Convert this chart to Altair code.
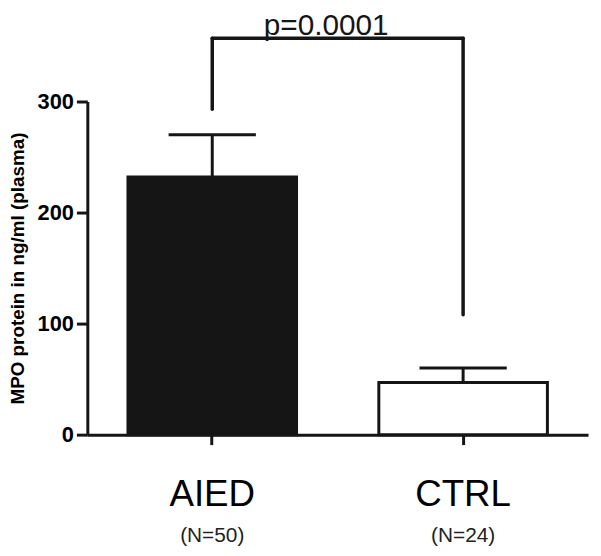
import altair as alt
import pandas as pd

groups = ["AIED", "CTRL"]
means = [232, 47]
err_tops = [270, 60]
n_labels = ["(N=50)", "(N=24)"]

# significance bracket
bracket_left = [293, 357]
bracket_right = [108, 357]
bracket_top = 357
p_text = "p=0.0001"

FONT = "Liberation Sans"
INK = "#151515"

bars_df = pd.DataFrame({"group": groups, "mean": means, "top": err_tops, "n": n_labels})

xscale = alt.Scale(domain=groups, paddingInner=0.328, paddingOuter=0.162)
yscale = alt.Scale(domain=[0, 300], nice=False)

x = alt.X("group:N", scale=xscale, sort=groups,
          axis=alt.Axis(title=None, labelAngle=0, labelFontSize=37, labelFont=FONT,
                        labelFontWeight="normal", labelColor="black",
                        domainColor=INK, domainWidth=3, tickColor=INK, tickWidth=3,
                        tickSize=10, labelPadding=61, labelBaseline="alphabetic"))
y = alt.Y("mean:Q", scale=yscale,
          axis=alt.Axis(title="MPO protein  in ng/ml (plasma)", values=[0, 100, 200, 300],
                        labelFontSize=22, labelFontWeight="bold", labelFont=FONT,
                        labelColor="black", tickSize=11, labelPadding=3,
                        domainColor=INK, domainWidth=3, tickColor=INK, tickWidth=3,
                        titleFontSize=19, titleFontWeight="bold", titleFont=FONT,
                        titleColor="black", titleX=-70, titleY=168,
                        titleBaseline="middle", titleAngle=-90, grid=False))

err_rule = alt.Chart(bars_df).mark_rule(color=INK, strokeWidth=3, opacity=1).encode(
    x=x, y=y, y2="top:Q")
err_cap = alt.Chart(bars_df).mark_tick(color=INK, thickness=3, size=88, opacity=1,
                                       strokeCap="round").encode(
    x=x, y=alt.Y("top:Q", scale=yscale))

bars = alt.Chart(bars_df).mark_bar(stroke=INK, strokeWidth=3, opacity=1).encode(
    x=x, y=y,
    fill=alt.Fill("group:N", scale=alt.Scale(domain=groups, range=[INK, "#ffffff"]),
                  legend=None))

n_text = alt.Chart(bars_df).mark_text(fontSize=21, font=FONT, color="#222222",
                                      baseline="middle").encode(
    x=x, y=alt.value(438), text="n:N")

br_df = pd.DataFrame({
    "g": [groups[0], groups[1]],
    "lo": [bracket_left[0], bracket_right[0]],
    "hi": [bracket_left[1], bracket_right[1]],
})
br_vert = alt.Chart(br_df).mark_rule(color=INK, strokeWidth=3.5, strokeCap="round").encode(
    x=alt.X("g:N", scale=xscale, sort=groups), y=alt.Y("lo:Q", scale=yscale), y2="hi:Q")

top_df = pd.DataFrame({"g1": [groups[0]], "g2": [groups[1]], "v": [bracket_top], "t": [p_text]})
br_top = alt.Chart(top_df).mark_rule(color=INK, strokeWidth=3.5, strokeCap="round").encode(
    x=alt.X("g1:N", scale=xscale, sort=groups), x2="g2:N", y=alt.Y("v:Q", scale=yscale))
p_label = alt.Chart(top_df).mark_text(fontSize=30, font=FONT, color=INK,
                                      align="left", baseline="alphabetic", dx=52, dy=-3).encode(
    x=alt.X("g1:N", scale=xscale, sort=groups), y=alt.Y("v:Q", scale=yscale), text="t:N")

chart = alt.layer(err_rule, err_cap, bars, n_text, br_vert, br_top, p_label).properties(
    width=505, height=336,
    background="white",
    autosize=alt.AutoSizeParams(type="none"),
    padding={"left": 80, "top": 92, "right": 5, "bottom": 110},
).configure_view(strokeWidth=0).configure_axis(
    domainColor=INK, domainWidth=3, tickColor=INK, tickWidth=3, grid=False
)

chart.save("out.html", embed_options={"renderer": "svg", "actions": False})
